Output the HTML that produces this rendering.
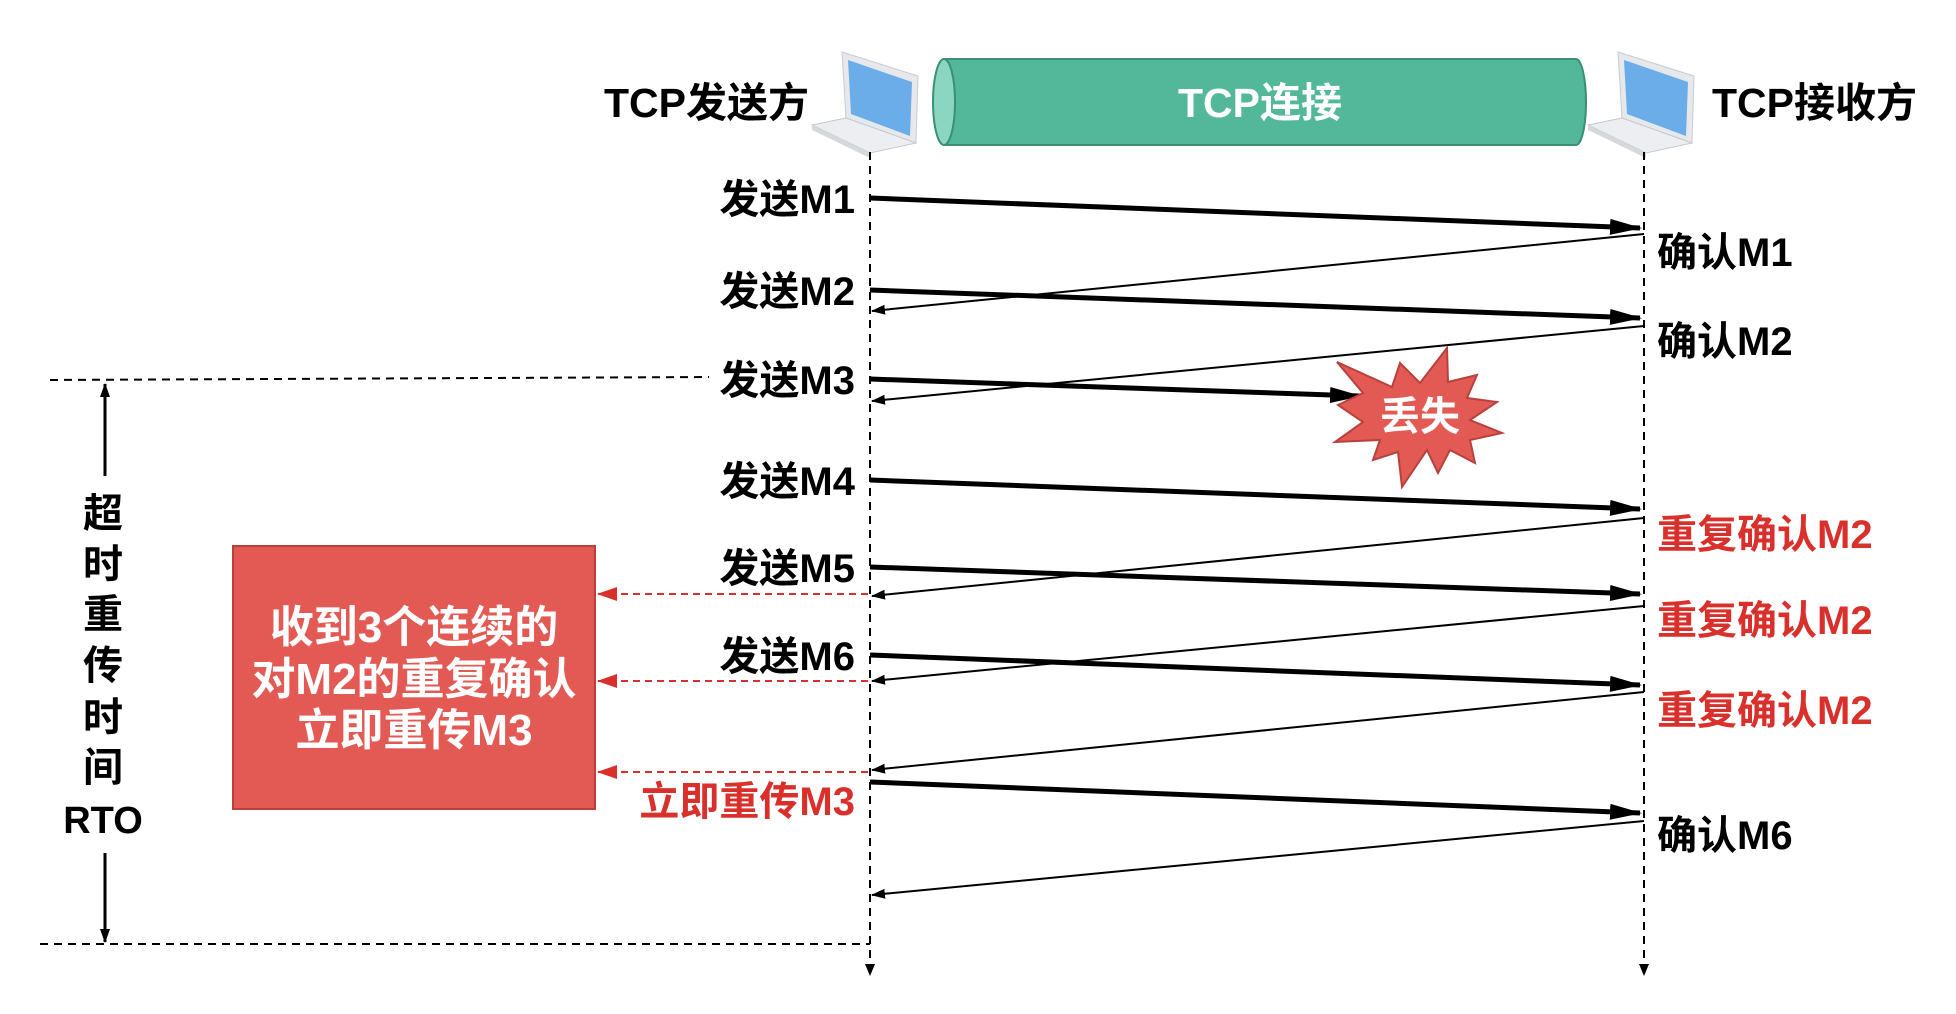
<!DOCTYPE html>
<html><head><meta charset="utf-8"><style>
html,body{margin:0;padding:0;background:#fff;}
svg{display:block;}
text{font-family:"Liberation Sans","Noto Sans CJK SC",sans-serif;font-weight:bold;}
</style></head><body>
<svg width="1956" height="1014" viewBox="0 0 1956 1014" xmlns="http://www.w3.org/2000/svg">
<defs>
<marker id="ab" markerWidth="32" markerHeight="16" refX="30" refY="8" orient="auto" markerUnits="userSpaceOnUse"><path d="M0,0 L32,8 L0,16 z" fill="#000"/></marker>
<marker id="at" markerWidth="14" markerHeight="10" refX="13" refY="5" orient="auto" markerUnits="userSpaceOnUse"><path d="M0,0 L14,5 L0,10 z" fill="#000"/></marker>
<marker id="ar" markerWidth="20" markerHeight="14" refX="19" refY="7" orient="auto" markerUnits="userSpaceOnUse"><path d="M0,0 L20,7 L0,14 z" fill="#d9302c"/></marker>
</defs>

<g id="lap">
<polygon points="842,52 918,76 916,143 846,118" fill="#e6e8ec" stroke="#c8ccd2"/>
<polygon points="848,60 912,82 910,136 851,114" fill="#6aade8"/>
<polygon points="812,125 846,118 916,143 870,153" fill="#eceef1" stroke="#c5c9cf"/>
<polygon points="812,125 870,153 870,158 812,130" fill="#d5d8dd"/>
</g>
<use href="#lap" x="776" y="0"/>

<line x1="870" y1="152" x2="870" y2="966" stroke="#000" stroke-width="2" stroke-dasharray="8,6"/>
<line x1="1644" y1="152" x2="1644" y2="966" stroke="#000" stroke-width="2" stroke-dasharray="8,6"/>
<path d="M865,964 L870,976 L875,964 z" fill="#000"/>
<path d="M1639,964 L1644,976 L1649,964 z" fill="#000"/>

<path d="M944,59 L1576,59 A10,43 0 0 1 1576,145 L944,145 z" fill="#52b899" stroke="#3a8f74" stroke-width="2"/>
<ellipse cx="944" cy="102" rx="11" ry="43" fill="#8bd6c1" stroke="#3a8f74" stroke-width="2"/>
<text x="1260" y="117" font-size="41" fill="#fff" text-anchor="middle">TCP连接</text>

<text x="809" y="117" font-size="41" fill="#000" text-anchor="end">TCP发送方</text>
<text x="1712" y="117" font-size="41" fill="#000">TCP接收方</text>

<line x1="50" y1="380" x2="709" y2="377" stroke="#000" stroke-width="2" stroke-dasharray="8,6"/>
<line x1="40" y1="944" x2="870" y2="944" stroke="#000" stroke-width="2" stroke-dasharray="8,6"/>
<line x1="105" y1="476" x2="105" y2="384" stroke="#000" stroke-width="3" marker-end="url(#at)"/>
<line x1="105" y1="853" x2="105" y2="942" stroke="#000" stroke-width="3" marker-end="url(#at)"/>
<g font-size="40" fill="#000" text-anchor="middle">
<text x="103" y="527">超</text><text x="103" y="578">时</text><text x="103" y="628">重</text><text x="103" y="679">传</text><text x="103" y="731">时</text><text x="103" y="781">间</text>
<text x="103" y="833" font-size="38">RTO</text>
</g>

<g stroke="#000" stroke-width="5" marker-end="url(#ab)">
<line x1="870" y1="198" x2="1640" y2="228"/>
<line x1="870" y1="290" x2="1640" y2="318"/>
<line x1="870" y1="379" x2="1360" y2="396"/>
<line x1="870" y1="480" x2="1640" y2="509"/>
<line x1="870" y1="567" x2="1640" y2="594"/>
<line x1="870" y1="655" x2="1640" y2="685"/>
<line x1="870" y1="782" x2="1640" y2="813"/>
</g>
<g stroke="#000" stroke-width="2" marker-end="url(#at)">
<line x1="1644" y1="234" x2="872" y2="311"/>
<line x1="1644" y1="326" x2="872" y2="401"/>
<line x1="1644" y1="518" x2="872" y2="596"/>
<line x1="1644" y1="606" x2="872" y2="681"/>
<line x1="1644" y1="692" x2="872" y2="770"/>
<line x1="1644" y1="821" x2="872" y2="895"/>
</g>

<polygon points="1337,362 1392,387 1400,363 1420,383 1447,348 1448,382 1477,375 1467,398 1497,402 1470,420 1502,433 1470,440 1475,463 1450,450 1438,473 1427,450 1402,487 1398,452 1373,460 1380,440 1335,442 1363,422 1338,405 1363,393" fill="#e35a55" stroke="#b8413d" stroke-width="2"/>
<text x="1420" y="430" font-size="40" fill="#fff" text-anchor="middle">丢失</text>

<g font-size="40" fill="#000" text-anchor="end">
<text x="855" y="213">发送M1</text>
<text x="855" y="305">发送M2</text>
<text x="855" y="394">发送M3</text>
<text x="855" y="495">发送M4</text>
<text x="855" y="582">发送M5</text>
<text x="855" y="670">发送M6</text>
<text x="855" y="815" fill="#d9302c">立即重传M3</text>
</g>
<g font-size="40" fill="#000">
<text x="1657" y="266">确认M1</text>
<text x="1657" y="355">确认M2</text>
<text x="1657" y="548" fill="#d9302c">重复确认M2</text>
<text x="1657" y="634" fill="#d9302c">重复确认M2</text>
<text x="1657" y="724" fill="#d9302c">重复确认M2</text>
<text x="1657" y="849">确认M6</text>
</g>

<rect x="233" y="546" width="362" height="263" fill="#e35a55" stroke="#b8413d" stroke-width="2"/>
<g font-size="44" fill="#fff" text-anchor="middle">
<text x="414" y="642">收到3个连续的</text>
<text x="414" y="694">对M2的重复确认</text>
<text x="414" y="745">立即重传M3</text>
</g>
<g stroke="#d9302c" stroke-width="2" stroke-dasharray="7,5" marker-end="url(#ar)">
<line x1="868" y1="594" x2="598" y2="594"/>
<line x1="868" y1="681" x2="598" y2="681"/>
<line x1="868" y1="772" x2="598" y2="772"/>
</g>
</svg>
</body></html>
